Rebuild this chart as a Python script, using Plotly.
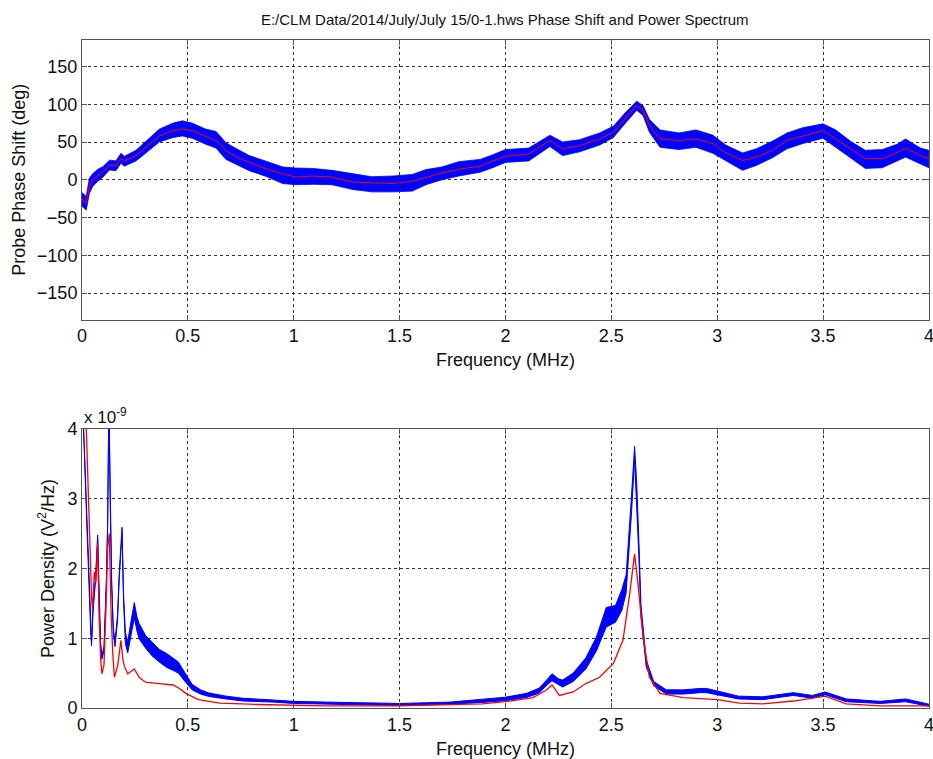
import numpy as np
import plotly.graph_objects as go
from plotly.subplots import make_subplots

TITLE = "E:/CLM Data/2014/July/July 15/0-1.hws Phase Shift and Power Spectrum"

# ---- Top panel: phase shift (deg) ----
phase_freq = [0.0, 0.01, 0.02, 0.035, 0.05, 0.075, 0.097, 0.13, 0.16, 0.184, 0.2, 0.255, 0.30,
              0.365, 0.43, 0.475, 0.52, 0.585, 0.633, 0.68, 0.73, 0.79, 0.87, 0.948, 1.01,
              1.09, 1.18, 1.28, 1.37, 1.47, 1.56, 1.625, 1.70, 1.78, 1.88, 1.94, 2.0, 2.11,
              2.21, 2.27, 2.35, 2.445, 2.51, 2.57, 2.62, 2.65, 2.68, 2.73, 2.82, 2.90, 2.98,
              3.04, 3.12, 3.185, 3.26, 3.33, 3.405, 3.50, 3.56, 3.63, 3.70, 3.78, 3.85, 3.89,
              3.96, 4.0]
phase_red = [-25, -30, -31, -10, 0, 5, 10, 19, 19, 28, 25, 32, 43,
             58, 65, 67, 65, 58, 52, 39, 30, 23, 14.5, 8, 3.5,
             5, 3.5, -3, -4, -5, -2, 3.5, 9, 14, 18, 25, 31, 34,
             52, 41, 45, 54, 63, 83, 98, 92, 72, 54, 52, 54, 48,
             36, 25.5, 30, 39, 52, 58, 65, 54, 41, 28, 28, 36, 42,
             32, 28]
# upper / lower edges of the noisy blue trace, read as offsets from the red one
phase_blue_up = [8, 10, 9, 12, 8, 9, 7, 7, 6, 7, 6, 7, 8,
                 9, 10, 11, 10, 9, 12, 10, 11, 9, 10, 9, 12,
                 10, 9, 11, 8, 10, 9, 10, 8, 10, 9, 8, 9, 8,
                 7, 9, 8, 8, 8, 7, 6, 6, 8, 12, 10, 12, 11,
                 10, 10, 11, 12, 10, 11, 9, 12, 10, 11, 12, 11, 12,
                 10, 11]
phase_blue_down = [10, 8, 9, 8, 9, 7, 7, 6, 7, 6, 7, 7, 8,
                   8, 9, 9, 10, 11, 10, 12, 10, 11, 10, 13, 10,
                   11, 10, 10, 12, 11, 13, 10, 9, 9, 8, 9, 8, 9,
                   8, 9, 8, 8, 7, 7, 6, 7, 9, 11, 12, 11, 13,
                   11, 13, 11, 10, 11, 10, 10, 11, 12, 13, 12, 11, 12,
                   11, 12]

# ---- Bottom panel: power density (x 1e-9 V^2/Hz) ----
psd_blue_freq = [0.0, 0.01, 0.02, 0.03, 0.04, 0.045, 0.052, 0.065, 0.074, 0.08, 0.088, 0.094,
                 0.104, 0.115, 0.121, 0.127, 0.133, 0.14, 0.148, 0.156, 0.168, 0.176, 0.189,
                 0.196, 0.205, 0.216, 0.232, 0.247, 0.26, 0.27, 0.30, 0.33, 0.365, 0.40, 0.43,
                 0.455, 0.475, 0.50, 0.52, 0.56, 0.60, 0.68, 0.76, 0.9, 1.0, 1.15, 1.3, 1.5,
                 1.74, 1.89, 2.0, 2.10, 2.16, 2.20, 2.22, 2.25, 2.27, 2.32, 2.38, 2.43, 2.476,
                 2.52, 2.55, 2.57, 2.585, 2.595, 2.61, 2.62, 2.63, 2.64, 2.665, 2.70, 2.76,
                 2.84, 2.92, 2.95, 3.0, 3.1, 3.215, 3.36, 3.45, 3.51, 3.61, 3.77, 3.89, 4.0]
psd_blue = [4.6, 3.8, 2.9, 2.2, 1.2, 0.92, 1.4, 1.9, 2.45, 1.6, 0.9, 0.73,
            0.85, 1.8, 2.6, 4.4, 3.0, 1.8, 1.1, 0.92, 1.3, 1.9, 2.55,
            1.6, 1.0, 0.87, 1.15, 1.4, 1.2, 1.1, 0.95, 0.85, 0.75, 0.68, 0.63,
            0.58, 0.49, 0.38, 0.30, 0.23, 0.19, 0.15, 0.12, 0.10, 0.08, 0.07, 0.06, 0.05,
            0.07, 0.10, 0.13, 0.18, 0.25, 0.38, 0.44, 0.38, 0.35, 0.44, 0.64, 0.92, 1.3,
            1.35, 1.55, 1.78, 2.4, 2.9, 3.65, 3.1, 2.3, 1.4, 0.64, 0.35, 0.23,
            0.23, 0.25, 0.25, 0.22, 0.15, 0.14, 0.20, 0.16, 0.21, 0.11, 0.08, 0.11, 0.04]
psd_blue_spread = [0.03, 0.03, 0.03, 0.03, 0.03, 0.03, 0.03, 0.03, 0.03, 0.03, 0.03, 0.03,
                   0.03, 0.03, 0.03, 0.03, 0.03, 0.03, 0.04, 0.04, 0.04, 0.04, 0.04,
                   0.06, 0.08, 0.08, 0.1, 0.11, 0.1, 0.11, 0.09, 0.1, 0.09, 0.1, 0.09,
                   0.08, 0.07, 0.05, 0.04, 0.03, 0.025, 0.02, 0.02, 0.015, 0.015, 0.015, 0.015, 0.015,
                   0.015, 0.02, 0.025, 0.03, 0.035, 0.04, 0.05, 0.04, 0.05, 0.06, 0.08, 0.1, 0.14,
                   0.12, 0.15, 0.13, 0.12, 0.12, 0.1, 0.12, 0.12, 0.08, 0.05, 0.03, 0.03,
                   0.03, 0.03, 0.03, 0.025, 0.02, 0.02, 0.02, 0.02, 0.02, 0.02, 0.015, 0.02, 0.015]

psd_red_freq = [0.0, 0.015, 0.025, 0.034, 0.04, 0.045, 0.05, 0.058, 0.066, 0.074, 0.08, 0.088,
                0.094, 0.104, 0.115, 0.121, 0.129, 0.137, 0.145, 0.153, 0.168, 0.184, 0.193,
                0.2, 0.216, 0.247, 0.27, 0.30, 0.365, 0.43, 0.46, 0.49, 0.55, 0.65, 0.83, 1.15,
                1.5, 1.89, 2.0, 2.13, 2.19, 2.22, 2.255, 2.32, 2.38, 2.445, 2.51, 2.555, 2.587,
                2.61, 2.626, 2.65, 2.68, 2.73, 2.84, 2.92, 3.0, 3.105, 3.215, 3.36, 3.51, 3.61,
                3.77, 4.0]
psd_red = [6.0, 4.5, 3.6, 2.84, 2.0, 1.6, 1.4, 1.95, 1.8, 2.35, 1.4, 0.7,
           0.49, 0.62, 1.6, 2.3, 2.5, 1.4, 0.8, 0.44, 0.6, 0.97, 0.7,
           0.6, 0.49, 0.56, 0.44, 0.37, 0.35, 0.33, 0.28, 0.21, 0.12, 0.07, 0.05, 0.03,
           0.03, 0.06, 0.09, 0.15, 0.25, 0.33, 0.18, 0.23, 0.35, 0.44, 0.64, 0.97, 1.64,
           2.21, 1.78, 1.02, 0.44, 0.21, 0.15, 0.14, 0.12, 0.07, 0.06, 0.10, 0.17, 0.06,
           0.03, 0.03]

x_ticks = [0, 0.5, 1, 1.5, 2, 2.5, 3, 3.5, 4]
x_tick_text = ["0", "0.5", "1", "1.5", "2", "2.5", "3", "3.5", "4"]
phase_ticks = [-150, -100, -50, 0, 50, 100, 150]
psd_ticks = [0, 1, 2, 3, 4]

BLUE = "#0000ff"
RED = "#ff0000"
FONT = "Liberation Sans, Arial, Helvetica, sans-serif"
TXT = "#111111"

fig = make_subplots(rows=2, cols=1)


def band(freq, center, up, down):
    f = np.asarray(freq, float)
    c = np.asarray(center, float)
    xs = np.concatenate([f, f[::-1]])
    ys = np.concatenate([c + np.asarray(up, float), (c - np.asarray(down, float))[::-1]])
    return xs, ys


bx, by = band(phase_freq, phase_red, phase_blue_up, phase_blue_down)
fig.add_trace(go.Scatter(x=bx, y=by, fill="toself", fillcolor=BLUE, mode="lines",
                         line=dict(color=BLUE, width=0.8), hoverinfo="skip",
                         showlegend=False), row=1, col=1)
fig.add_trace(go.Scatter(x=phase_freq, y=phase_red, mode="lines",
                         line=dict(color=RED, width=1), showlegend=False), row=1, col=1)

bx2, by2 = band(psd_blue_freq, psd_blue, psd_blue_spread, psd_blue_spread)
fig.add_trace(go.Scatter(x=bx2, y=by2, fill="toself", fillcolor=BLUE, mode="lines",
                         line=dict(color=BLUE, width=1), hoverinfo="skip",
                         showlegend=False), row=2, col=1)
fig.add_trace(go.Scatter(x=psd_red_freq, y=psd_red, mode="lines",
                         line=dict(color=RED, width=1.3), showlegend=False), row=2, col=1)

axis_common = dict(showline=True, linecolor="#555555", linewidth=1, mirror="ticks",
                   ticks="inside", ticklen=5, tickcolor="#555555",
                   showgrid=True, gridcolor="#333333", griddash="dot", gridwidth=1,
                   zeroline=False, ticklabeloverflow="allow", automargin=False,
                   tickfont=dict(family=FONT, size=18, color=TXT))

fig.update_xaxes(**axis_common, range=[0, 4.0005], tickvals=x_ticks, ticktext=x_tick_text,
                 title=dict(text="Frequency (MHz)", font=dict(family=FONT, size=18, color=TXT),
                            standoff=8))
fig.update_yaxes(**axis_common)
fig.update_yaxes(range=[-185, 185], tickvals=phase_ticks, row=1, col=1,
                 title=dict(text="Probe Phase Shift (deg)",
                            font=dict(family=FONT, size=18, color=TXT), standoff=6))
fig.update_yaxes(range=[0, 4], tickvals=psd_ticks, row=2, col=1,
                 title=dict(text="Power Density (V<sup>2</sup>/Hz)",
                            font=dict(family=FONT, size=18, color=TXT), standoff=8))

fig.update_layout(
    width=933, height=759,
    margin=dict(l=82, r=4, t=40, b=51, autoexpand=False),
    paper_bgcolor="white", plot_bgcolor="white",
    title=dict(text=TITLE, x=0.541, xanchor="center", y=0.974, yanchor="middle",
               font=dict(family=FONT, size=15, color=TXT)),
    xaxis=dict(domain=[0, 1]),
    yaxis=dict(domain=[0.5815, 1.0]),
    xaxis2=dict(domain=[0, 1]),
    yaxis2=dict(domain=[0.0, 0.4178]),
    annotations=[dict(text="x 10<sup>-9</sup>", xref="paper", yref="paper", x=0.0, y=0.4178,
                      xanchor="left", yanchor="bottom", yshift=0, showarrow=False,
                      font=dict(family=FONT, size=17, color=TXT))],
)

fig.write_html("out.html")
